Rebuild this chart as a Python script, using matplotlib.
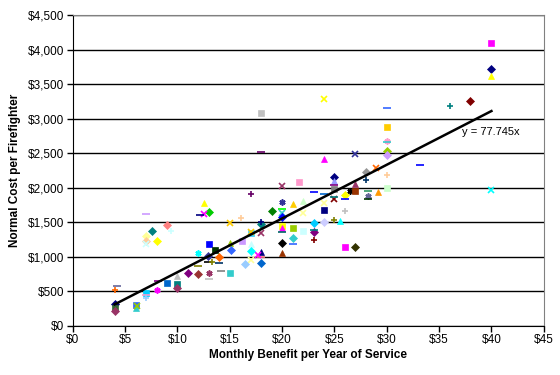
import numpy as np
import matplotlib
matplotlib.use("Agg")
import matplotlib.pyplot as plt
from matplotlib.ticker import FuncFormatter

plt.rcParams["font.family"] = ["Liberation Sans", "DejaVu Sans"]

# ─── Data: monthly benefit per year of service vs normal cost ─────────────────
benefit = [40, 40, 40, 38, 36, 24, 30, 18, 18, 30, 30, 30, 30, 30, 27, 24, 29, 28,
           30, 28, 33.2, 25, 25, 27, 25, 26.5, 27, 28.2, 29.2, 30, 25, 26, 26, 25,
           25, 28.2, 28.2, 40, 24, 26, 23, 24, 25, 25.5, 23, 23, 23, 26, 27, 22,
           24, 24, 23, 22, 22, 20, 21, 19, 20, 20, 20, 18, 18, 20, 20, 20, 18, 21,
           20, 21, 21, 20, 18, 18, 17.7, 18, 12.5, 13, 12.5, 12.2, 15, 16.1, 13,
           13.6, 15, 15.1, 16.2, 17, 17, 17, 12, 12.9, 12.9, 13.3, 14, 14, 17,
           16.5, 12, 11, 12, 13, 14.2, 13, 15, 7, 9, 7.6, 9.4, 7, 7, 7, 8, 10, 9,
           10, 10, 8, 8.1, 7, 7, 7, 4, 4.2, 6, 6, 6.1, 4, 4, 4, 21.6, 20, 17, 17]
cost = [4100, 3720, 3620, 3260, 3180, 3290, 3160, 3085, 2520, 2880, 2670, 2660,
        2530, 2470, 2490, 2420, 2290, 2225, 2180, 2110, 2330, 2150, 2090, 2050,
        2040, 1950, 1950, 1950, 1935, 1990, 1980, 1890, 1830, 1840, 1870, 1880,
        1830, 1965, 1675, 1660, 1485, 1510, 1530, 1515, 1355, 1390, 1240, 1135,
        1135, 1370, 1775, 1905, 1935, 1805, 1630, 1790, 1760, 1660, 1690, 1640,
        1570, 1470, 1510, 1450, 1420, 1360, 1350, 1420, 1205, 1265, 1190, 1060,
        1075, 1000, 1030, 915, 1775, 1655, 1615, 1600, 1485, 1555, 1190, 1105,
        1205, 1105, 1235, 1340, 1190, 1080, 1060, 1005, 930, 930, 990, 915, 960,
        890, 860, 770, 755, 770, 800, 685, 770, 1615, 1455, 1370, 1370, 1295,
        1225, 1180, 1235, 715, 625, 610, 555, 525, 655, 480, 440, 400, 525, 580,
        305, 255, 290, 310, 265, 220, 2080, 2020, 1905, 1360]

# marker / colour for each plan (Excel-style series)
markers = ["s", "D", "^", "D", "+", "x", "_", "s", "_", "s", "*", "_", "D", "D",
           "x", "^", "x", "D", "+", "+", "_", "D", "^", "^", "_", "*", "s", "_",
           "^", "s", "s", "D", "_", "x", "_", "*", "_", "x", "s", "+", "D", "D",
           "+", "^", "D", "_", "+", "s", "D", "s", "x", "_", "_", "^", "x", "*",
           "^", "D", "_", "x", "D", "D", "+", "s", "^", "_", "x", "s", "D", "D",
           "_", "^", "^", "_", "x", "D", "^", "D", "x", "_", "x", "+", "s", "s",
           "^", "D", "s", "s", "^", "D", "*", "D", "_", "+", "D", "_", "x", "D",
           "_", "D", "D", "*", "_", "_", "s", "_", "D", "D", "+", "D", "D", "x",
           "D", "^", "s", "s", "D", "*", "_", "s", "_", "+", "+", "_", "s", "^",
           "x", "D", "s", "D", "s", "x", "+", "x"]
colors = ["#FF00FF", "#000080", "#FFFF00", "#800000", "#008080", "#FFFF00",
          "#3366FF", "#C0C0C0", "#660066", "#FFCC00", "#FF99CC", "#33CCCC",
          "#99CC00", "#CC99FF", "#333399", "#FF00FF", "#FF6600", "#969696",
          "#FFCC99", "#003366", "#0000FF", "#000080", "#9999FF", "#993366",
          "#800080", "#000000", "#993300", "#339966", "#FF9900", "#CCFFCC",
          "#808080", "#FFFF00", "#0000FF", "#800000", "#008080", "#666699",
          "#003300", "#00FFFF", "#000080", "#C0C0C0", "#00CCFF", "#CCCCFF",
          "#808000", "#00FFFF", "#800080", "#008080", "#800000", "#FF00FF",
          "#333300", "#CCFFFF", "#FFFF99", "#0066CC", "#0000FF", "#CCFFCC",
          "#FFFF99", "#333399", "#FFCC00", "#008000", "#00FF00", "#33CCCC",
          "#0000FF", "#008080", "#000080", "#FFFF00", "#FF00FF", "#006666",
          "#993366", "#99CC00", "#000000", "#33CCCC", "#3366FF", "#993300",
          "#000080", "#FF8080", "#FF00FF", "#0066CC", "#FFFF00", "#00CC00",
          "#FF00FF", "#000080", "#FFCC00", "#FFCC99", "#0000FF", "#003300",
          "#99CC00", "#3366FF", "#CC99FF", "#33CCFF", "#CCFFFF", "#00FFFF",
          "#00FFFF", "#333399", "#000000", "#808000", "#FF6600", "#003366",
          "#FFFF99", "#99CCFF", "#808000", "#800080", "#993333", "#993366",
          "#808080", "#C0C0C0", "#33CCCC", "#CC99FF", "#FF8080", "#008080",
          "#CCFFFF", "#FFFF99", "#FFCC99", "#CCFFFF", "#FFFF00", "#C0C0C0",
          "#0066CC", "#008080", "#993366", "#FF00FF", "#800080", "#00CCFF",
          "#FF99CC", "#99CCFF", "#FF6600", "#666699", "#3366FF", "#33CCCC",
          "#99CC00", "#000080", "#336633", "#993366", "#FF99CC", "#993366",
          "#660066", "#FFCC00"]

SLOPE = 77.745
trend_x = [4, 40]

# ─── Plot ─────────────────────────────────────────────────────────────────────
fig = plt.figure(figsize=(5.6, 3.75), dpi=100)
ax = fig.add_axes([0.130, 0.131, 0.841, 0.829])

sizes = {"s": 4.0, "D": 4.3, "^": 5.0, "x": 4.0, "+": 4.8, "*": 4.4, "_": 5.6}
for bx, c, m, col in zip(benefit, cost, markers, colors):
    mk = (6, 2, 0) if m == "*" else m
    filled = m in ("s", "D", "^")
    ax.plot(bx, c, marker=mk, ms=sizes[m], color=col, linestyle="none",
            mec=col, mew=1.2 if not filled else 0.5, zorder=3)

tx = np.array(trend_x)
ax.plot(tx, SLOPE * tx, color="black", lw=1.8, zorder=4)
ax.text(37.2, 2800, "y = 77.745x", fontsize=8, va="center", ha="left")

ax.set_xlim(0, 45)
ax.set_ylim(0, 4500)
ax.set_xticks(np.arange(0, 46, 5))
ax.set_yticks(np.arange(0, 4501, 500))
ax.xaxis.set_major_formatter(FuncFormatter(lambda v, p: f"${v:,.0f}"))
ax.yaxis.set_major_formatter(FuncFormatter(lambda v, p: f"${v:,.0f}"))
ax.tick_params(labelsize=8.5, length=4, width=1, color="black", pad=2)
ax.grid(axis="y", color="black", lw=1)
ax.set_axisbelow(True)
for side in ("top", "right"):
    ax.spines[side].set_color("#808080")
for side in ("left", "bottom"):
    ax.spines[side].set_color("black")

ax.set_xlabel("Monthly Benefit per Year of Service", fontsize=8.5, fontweight="bold", labelpad=2)
ax.set_ylabel("Normal Cost per Firefighter", fontsize=8.5, fontweight="bold", labelpad=5)

plt.savefig("out.png", dpi=100)
